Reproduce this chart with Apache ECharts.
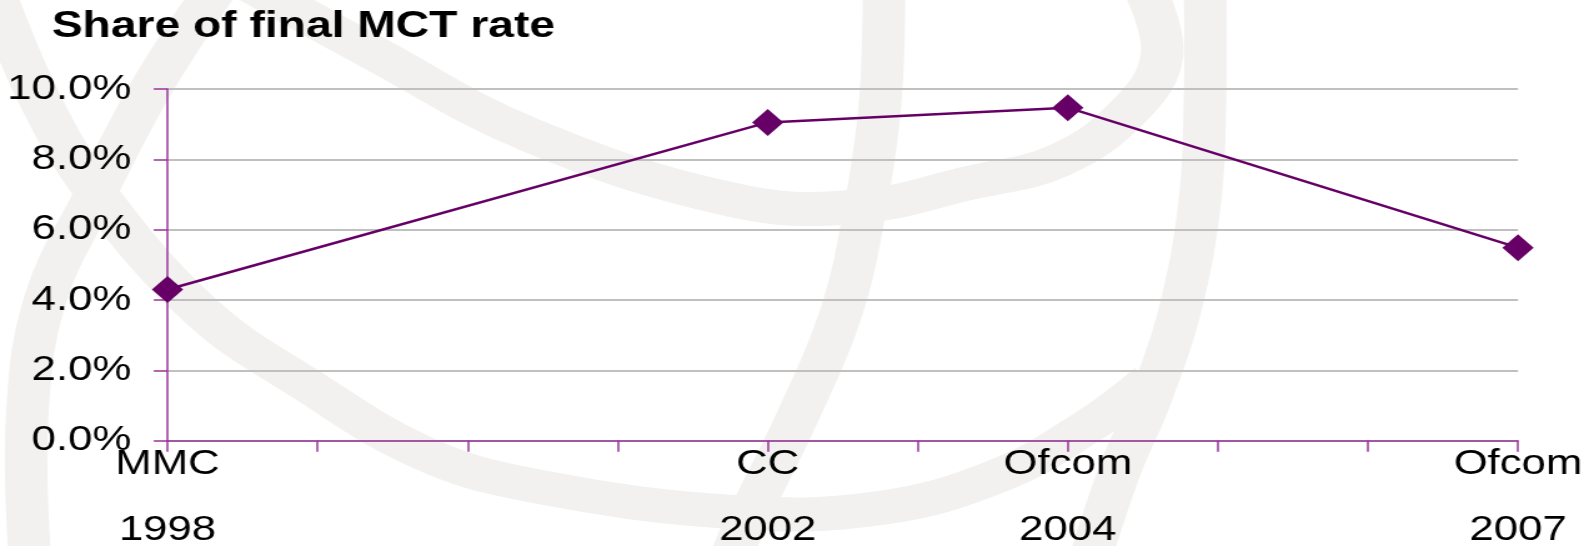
<!DOCTYPE html>
<html>
<head>
<meta charset="utf-8">
<script src="https://cdn.jsdelivr.net/npm/echarts@6/dist/echarts.min.js"></script>
<style>
  html, body { margin: 0; padding: 0; background: #fff; overflow: hidden; }
  /* the original picture is stretched sideways, so the chart is drawn narrower and widened */
  #box1 { width: 1272px; height: 546px; transform: scaleX(1.2492); transform-origin: 0 0; }
</style>
</head>
<body>
<div id="box1"></div>
<script>
var SX = 1589 / 1272;
function px(x) { return x / SX; }

// data
var sources = ['MMC', 'CC', 'Ofcom', 'Ofcom'];
var years = [1998, 2002, 2004, 2007];
var shares = [4.3, 9.05, 9.47, 5.49];   // % of final MCT rate
var yTicks = [0, 2, 4, 6, 8, 10];

var FONT = "'Liberation Sans', Arial, sans-serif";
var AXIS = '#993399';

// faint watermark bands in the background (page coords)
var bands = [
  [[215,-10],[150,90],[95,195],[45,300],[27,420],[30,560]],
  [[-10,-20],[40,100],[98,195],[203,313],[304,383],[423,453],[530,485],[733,512],[880,508],[1000,475],[1090,425],[1150,380]],
  [[250,-15],[372,52],[530,135],[733,200],[855,207],[969,183],[1060,160],[1130,110],[1162,55],[1145,-10]],
  [[884,-10],[880,104],[865,209],[841,313],[797,418],[746,522],[730,560]],
  [[1205,-10],[1205,100],[1200,200],[1180,310],[1150,400],[1120,470],[1090,560]]
];

var myChart1 = echarts.init(document.getElementById('box1'));

var option = {
  animation: false,
  backgroundColor: '#fff',
  title: {
    text: 'Share of final MCT rate',
    left: px(51.7),
    top: 8,
    padding: 0,
    textStyle: { fontFamily: FONT, fontSize: 37, fontWeight: 'bold', color: '#000' }
  },
  graphic: bands.map(function (pts) {
    return {
      type: 'polyline',
      silent: true,
      z: -10,
      shape: { points: pts.map(function (p) { return [px(p[0]), p[1]]; }), smooth: 0.4 },
      style: { stroke: '#f2f1ef', lineWidth: 34, fill: null }
    };
  }),
  grid: {
    left: px(167.5),
    right: 1272 - px(1518),
    top: 89,
    bottom: 105.2,
    containLabel: false,
    outerBoundsMode: 'none'
  },
  xAxis: {
    type: 'value',
    min: years[0],
    max: years[years.length - 1],
    interval: 1,
    splitLine: { show: false },
    axisLine: { lineStyle: { color: AXIS, width: 1.5 } },
    axisTick: { show: true, length: 11, lineStyle: { color: AXIS, width: 1.5 } },
    axisLabel: {
      margin: -9,
      fontFamily: FONT,
      fontSize: 35,
      lineHeight: 66,
      color: '#000',
      showMinLabel: true,
      showMaxLabel: true,
      formatter: function (v) {
        var i = years.indexOf(v);
        return i < 0 ? '' : sources[i] + '\n' + years[i];
      }
    }
  },
  yAxis: {
    type: 'value',
    min: yTicks[0],
    max: yTicks[yTicks.length - 1],
    interval: yTicks[1] - yTicks[0],
    axisLine: { show: true, lineStyle: { color: AXIS, width: 1.5 } },
    axisTick: { show: true, length: 11, lineStyle: { color: AXIS, width: 1.5 } },
    splitLine: { show: true, lineStyle: { color: '#c0c0c0', width: 2 } },
    axisLabel: {
      margin: 29,
      fontFamily: FONT,
      fontSize: 35,
      color: '#000',
      formatter: function (v) { return v.toFixed(1) + '%'; }
    }
  },
  series: [{
    type: 'line',
    data: years.map(function (y, i) { return [y, shares[i]]; }),
    symbol: 'diamond',
    symbolSize: [25, 27],
    itemStyle: { color: '#660066' },
    lineStyle: { color: '#660066', width: 2.5 }
  }]
};

myChart1.setOption(option);
</script>
</body>
</html>
